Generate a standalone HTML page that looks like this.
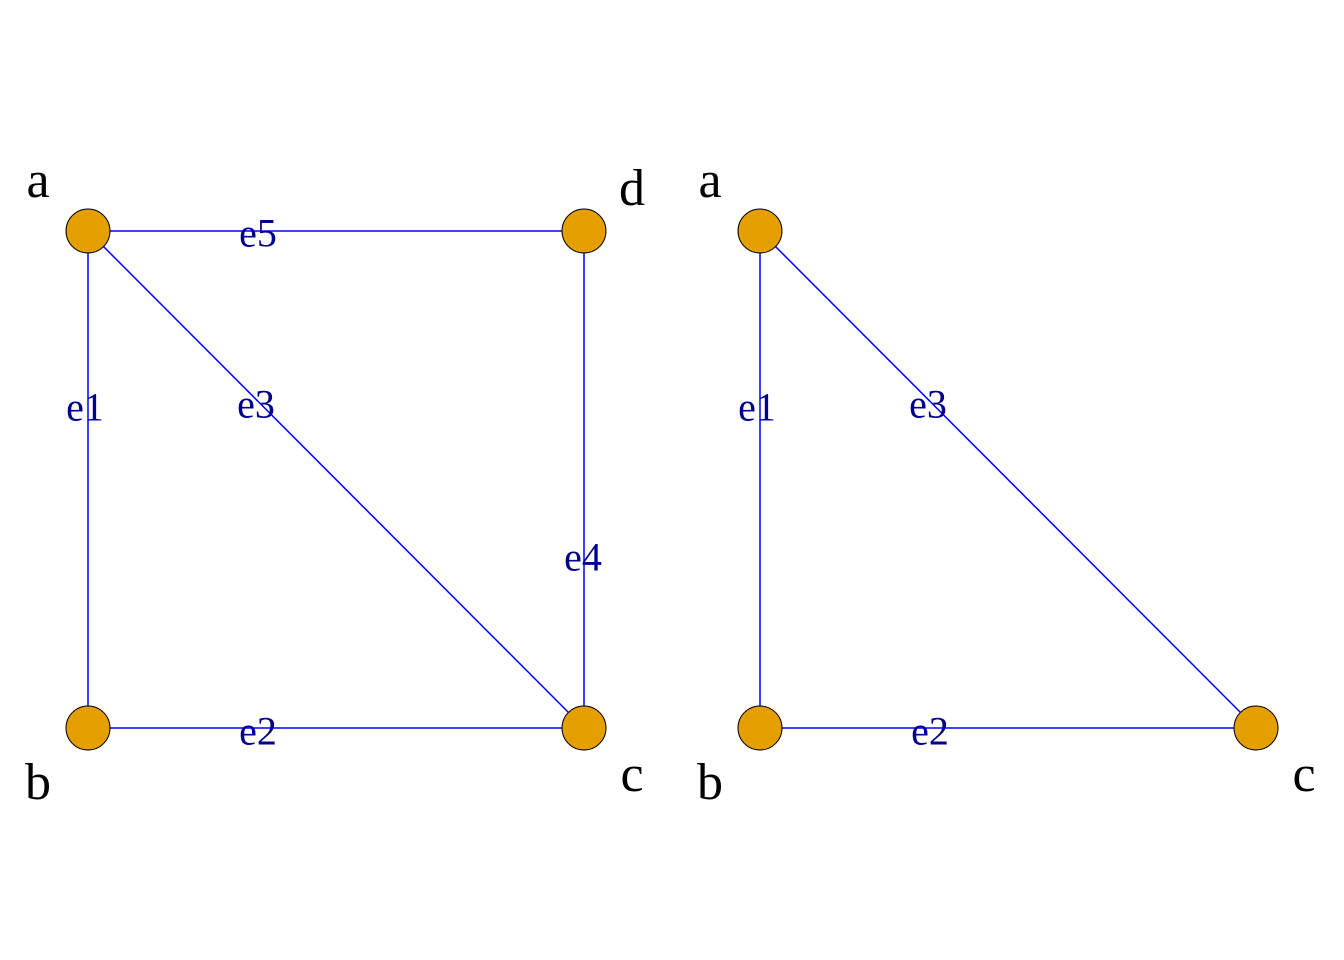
<!DOCTYPE html>
<html><head><meta charset="utf-8"><style>
html,body{margin:0;padding:0;background:#fff;}
svg{display:block;}
.n{font-family:"Liberation Serif",serif;font-size:52px;fill:#000;text-anchor:middle;}
.e{font-family:"Liberation Serif",serif;font-size:40px;fill:#00008B;text-anchor:middle;dominant-baseline:central;}
</style></head><body>
<svg width="1344" height="960" viewBox="0 0 1344 960">
<g stroke="#0000FF" stroke-width="1.5">
<line x1="88" y1="231" x2="584" y2="231"/>
<line x1="88" y1="231" x2="88" y2="728"/>
<line x1="88" y1="231" x2="584" y2="728"/>
<line x1="584" y1="231" x2="584" y2="728"/>
<line x1="88" y1="728" x2="584" y2="728"/>
<line x1="760" y1="231" x2="760" y2="728"/>
<line x1="760" y1="231" x2="1256" y2="728"/>
<line x1="760" y1="728" x2="1256" y2="728"/>
</g>
<g fill="#E69F00" stroke="#000" stroke-width="1">
<circle cx="88" cy="231" r="22"/><circle cx="584" cy="231" r="22"/>
<circle cx="88" cy="728" r="22"/><circle cx="584" cy="728" r="22"/>
<circle cx="760" cy="231" r="22"/><circle cx="760" cy="728" r="22"/>
<circle cx="1256" cy="728" r="22"/>
</g>
<text class="e" x="258" y="233">e5</text>
<text class="e" x="85" y="407">e1</text>
<text class="e" x="256" y="404">e3</text>
<text class="e" x="583" y="557">e4</text>
<text class="e" x="258" y="731">e2</text>
<text class="e" x="757" y="407">e1</text>
<text class="e" x="928" y="404">e3</text>
<text class="e" x="930" y="731">e2</text>
<text class="n" x="38" y="197">a</text>
<text class="n" x="632" y="205">d</text>
<text class="n" x="38" y="799">b</text>
<text class="n" x="632" y="791">c</text>
<text class="n" x="710" y="197">a</text>
<text class="n" x="710" y="799">b</text>
<text class="n" x="1304" y="791">c</text>
</svg>
</body></html>
